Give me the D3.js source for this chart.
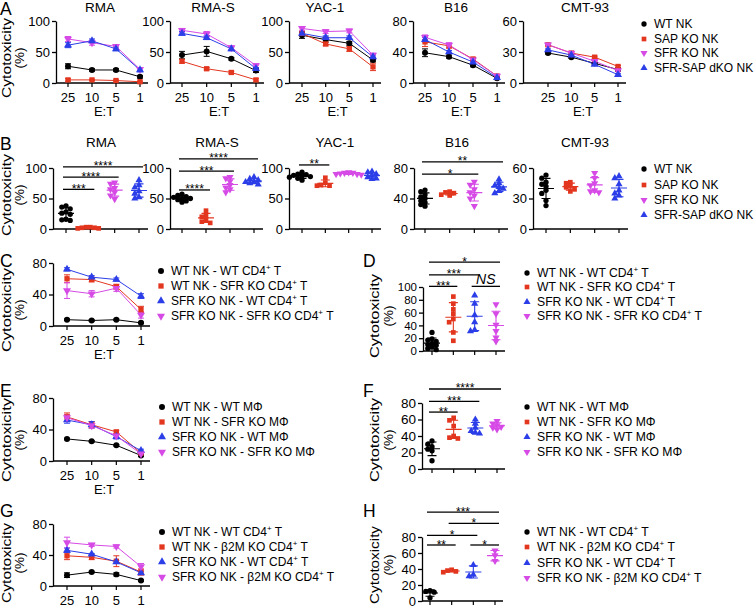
<!DOCTYPE html>
<html><head><meta charset="utf-8">
<script src="https://cdn.jsdelivr.net/npm/d3@7"></script>
<style>body{margin:0;background:#fff}svg{display:block}text{font-family:Arial,"Liberation Sans",Helvetica,sans-serif;fill:#000}</style>
</head><body><svg id="c" width="754" height="609"></svg>
<script>
// ---------------- DATA ----------------
const etTicks = ["25","10","5","1"];
const targets = ["RMA","RMA-S","YAC-1","B16","CMT-93"];
const legendAB = ["WT NK","SAP KO NK","SFR KO NK","SFR-SAP dKO NK"];
const yMaxAB = [100,100,100,80,60];
const yTicksAB = [[0,50,100],[0,50,100],[0,50,100],[0,40,80],[0,30,60]];

// Panel A: series order WT, SAP KO, SFR KO, SFR-SAP dKO ; values at E:T 25,10,5,1
const aRMA   = [[27,21,21,10],[5,5,4,2],[71,65,59,22],[61,68,55,21]];
const aRMAerr= [[4,2,2,2],[2,1,1,1],[4,4,3,3],[4,3,3,3]];
const aRMAS  = [[45,51,39,20],[35,23,17,5],[85,79,57,28],[80,73,55,23]];
const aRMASerr=[[6,8,2,3],[3,2,2,2],[3,4,3,3],[3,3,3,2]];
const aYAC   = [[77,70,64,37],[80,63,55,26],[88,83,84,45],[80,73,73,42]];
const aYACerr= [[5,4,3,3],[3,3,4,6],[3,3,3,3],[3,3,3,3]];
const aB16   = [[39,34,23,6],[53,48,31,9],[59,49,30,9],[56,40,27,7]];
const aB16err= [[5,2,2,1],[6,3,2,1],[3,3,2,1],[3,2,2,1]];
const aCMT   = [[29,25,19,13],[37,29,25,16],[37,29,21,12],[32,27,18,8]];
const aCMTerr= [[1,1,1,1],[1,1,1,1],[1,1,1,1],[1,1,1,1]];

// Panel B: individual points per group (WT, SAP KO, SFR KO, SFR-SAP dKO)
const bRMA = [[38,36,33,28,26,24,16,15,14],[3,2,1,2,3,1],[76,74,67,65,60,55,49],[80,72,68,62,58,52,50]];
const bRMAS = [[57,55,53,52,50,50,48,46,44],[30,22,20,15,12,10],[85,83,78,72,68,65,60],[85,82,80,78,77,75,73]];
const bYAC = [[93,90,89,88,87,86,85,83,80],[84,76,72,71,71],[93,92,92,91,90,90,89],[94,93,90,88,85,83,82]];
const bB16 = [[51,49,45,42,40,37,35,32,30],[49,48,47,45,44],[62,58,52,48,44,40,30],[65,60,57,55,53,50,47]];
const bCMT = [[53,50,46,44,42,38,35,28,23],[46,45,42,41,39,37],[55,50,45,43,38,37,36],[52,50,44,38,35,33,30]];
// significance: [groupFrom, groupTo, label, y-value of bar]
const sigRMA = [[0,1,"***",65],[0,2,"****",85],[0,3,"****",102]];
const sigRMAS = [[0,1,"****",64],[0,2,"***",95],[0,3,"****",115]];
const sigYAC = [[0,1,"**",105]];
const sigB16 = [[0,2,"*",72],[0,3,"**",88]];
const sigCMT = [];

// Panels C/D  (order: WT NK-WT CD4 T, WT NK-SFR KO CD4 T, SFR KO NK-WT CD4 T, SFR KO NK-SFR KO CD4 T)
const cVals = [[8,7,8,4],[60,59,50,21],[72,62,59,38],[45,41,48,14]];
const cErr  = [[1,1,1,1],[5,3,3,4],[2,2,2,3],[10,4,4,4]];
const dPts  = [[29,19,17,15,12,10,9,6,4,2],[85,74,65,58,50,45,29,16],[87,74,56,45,33,31],[73,58,41,31,21,15]];
const sigD  = [[0,1,"***",101],[0,2,"***",119],[0,3,"*",139],[2,3,"NS",101]];
// Panels E/F  (macrophages)
const eVals = [[28,25,20,7],[56,46,37,10],[52,46,31,13],[55,45,32,9]];
const eErr  = [[1,1,1,1],[5,4,2,2],[4,4,3,2],[4,3,2,2]];
const fPts  = [[34,30,27,24,22,10],[62,59,52,40,38,37],[60,55,50,46,44,43],[58,55,53,51,50,48]];
const sigF  = [[0,1,"**",69],[0,2,"***",82],[0,3,"****",97]];
// Panels G/H  (b2M KO)
const gVals = [[14,18,15,7],[39,37,32,18],[46,41,31,17],[56,53,51,25]];
const gErr  = [[3,1,2,1],[5,3,7,4],[3,1,2,2],[7,2,2,4]];
const hPts  = [[13,12,11,4],[39,38,37,36],[45,33,31],[63,57,50]];
const sigH  = [[0,1,"**",70],[2,3,"*",70],[0,2,"*",82],[1,3,"*",97],[0,3,"***",111]];

const legendCD = [["WT NK - WT CD4","+"," T"],["WT NK - SFR KO CD4","+"," T"],["SFR KO NK - WT CD4","+"," T"],["SFR KO NK - SFR KO CD4","+"," T"]];
const legendEF = [["WT NK - WT M\u03A6"],["WT NK - SFR KO M\u03A6"],["SFR KO NK - WT M\u03A6"],["SFR KO NK - SFR KO M\u03A6"]];
const legendGH = [["WT NK - WT CD4","+"," T"],["WT NK - \u03B22M KO CD4","+"," T"],["SFR KO NK - WT CD4","+"," T"],["SFR KO NK - \u03B22M KO CD4","+"," T"]];

// ---------------- STYLE ----------------
const BLACK={c:"#000000",s:"circle"}, RED={c:"#e3361f",s:"square"}, MAG={c:"#d64ae6",s:"down"}, BLUE={c:"#2b3ee8",s:"up"};
const stylesAB=[BLACK,RED,MAG,BLUE];
const stylesCH=[BLACK,RED,BLUE,MAG];

const svg=d3.select("#c");

function marker(g,x,y,st,size){
  const t = st.s==="circle"?d3.symbolCircle:st.s==="square"?d3.symbolSquare:d3.symbolTriangle;
  g.append("path").attr("d",d3.symbol().type(t).size(size)())
   .attr("transform",`translate(${x},${y})`+(st.s==="down"?" rotate(180)":""))
   .attr("fill",st.c);
}

function yAxis(g,ax,y,ticks,fs){
  const a=g.append("g").attr("transform",`translate(${ax},0)`)
    .call(d3.axisLeft(y).tickValues(ticks).tickSize(4).tickSizeOuter(0).tickPadding(2));
  a.selectAll("path,line").attr("stroke","#000").attr("stroke-width",1.3);
  a.selectAll("text").attr("font-size",fs).attr("font-family","Arial,'Liberation Sans',sans-serif").attr("fill","#000");
}
function xAxis(g,ax,xEnd,yb,xs,labels,fs){
  g.append("line").attr("x1",ax).attr("x2",xEnd).attr("y1",yb).attr("y2",yb).attr("stroke","#000").attr("stroke-width",1.3);
  xs.forEach((xx,i)=>{
    g.append("line").attr("x1",xx).attr("x2",xx).attr("y1",yb).attr("y2",yb+4).attr("stroke","#000").attr("stroke-width",1.2);
    if(labels) g.append("text").attr("x",xx).attr("y",yb+19).attr("text-anchor","middle").attr("font-size",fs).text(labels[i]);
  });
}
function yLabel(xc,yc,x2,len){
  svg.append("text").attr("transform",`translate(${xc},${yc}) rotate(-90)`).attr("text-anchor","middle").attr("font-size",13.5)
    .attr("textLength",len||84).attr("lengthAdjust","spacingAndGlyphs").text("Cytotoxicity");
  svg.append("text").attr("transform",`translate(${x2},${yc}) rotate(-90)`).attr("text-anchor","middle").attr("font-size",13.5).text("(%)");
}
function letter(x,y,L){svg.append("text").attr("x",x).attr("y",y).attr("font-size",17.5).text(L);}

// line chart panel
function linePanel(o){
  const g=svg.append("g");
  const y=d3.scaleLinear().domain([0,o.max]).range([o.yb,o.yt]);
  const x=d3.scalePoint().domain(etTicks).range([o.first,o.last]);
  yAxis(g,o.ax,y,o.ticks,o.fs||13);
  xAxis(g,o.ax,o.xEnd,o.yb,etTicks.map(d=>x(d)),etTicks,13);
  if(o.et) g.append("text").attr("x",o.etX).attr("y",o.yb+33).attr("text-anchor","middle").attr("font-size",13).text("E:T");
  o.vals.forEach((ser,si)=>{
    const st=o.styles[si];
    g.append("path").datum(ser).attr("fill","none").attr("stroke",st.c).attr("stroke-width",1)
      .attr("d",d3.line().x((d,i)=>x(etTicks[i])).y(d=>y(d)));
    ser.forEach((v,i)=>{
      const e=o.err[si][i], xx=x(etTicks[i]);
      if(e>0){
        g.append("path").attr("d",`M${xx},${y(v-e)}V${y(v+e)}M${xx-3},${y(v-e)}H${xx+3}M${xx-3},${y(v+e)}H${xx+3}`)
          .attr("stroke",st.c).attr("stroke-width",1).attr("fill","none");
      }
    });
  });
  o.vals.forEach((ser,si)=>ser.forEach((v,i)=>marker(g,x(etTicks[i]),y(v),o.styles[si],28)));
}

// scatter panel
function swarm(vals,y,step){
  const placed=[];const out=new Array(vals.length);
  const order=vals.map((v,i)=>({v,i})).sort((a,b)=>b.v-a.v);
  const offs=[0,-1,1,-2,2,-3,3];
  order.forEach(p=>{
    const py=y(p.v);
    for(const k of offs){
      const px=k*step;
      if(placed.every(q=>(q.x-px)**2+(q.y-py)**2>=(step*0.8)**2)){placed.push({x:px,y:py});out[p.i]=px;break;}
    }
    if(out[p.i]===undefined){out[p.i]=0;}
  });
  return out;
}
function scatterPanel(o){
  const g=svg.append("g");
  const y=d3.scaleLinear().domain([0,o.max]).range([o.yb,o.yt]);
  const x=d3.scalePoint().domain(d3.range(o.pts.length)).range([o.first,o.last]);
  yAxis(g,o.ax,y,o.ticks,o.fs||13);
  xAxis(g,o.ax,o.xEnd,o.yb,o.pts.map((d,i)=>x(i)),null,13);
  o.pts.forEach((pts,gi)=>{
    const st=o.styles[gi], xc=x(gi);
    const offs=swarm(pts,y,4.2);
    pts.forEach((v,i)=>marker(g,xc+offs[i],y(v),st,22));
    const m=d3.mean(pts), sd=pts.length>1?d3.deviation(pts):0;
    g.append("path").attr("d",`M${xc-8},${y(m)}H${xc+8}M${xc},${y(Math.max(0,m-sd))}V${y(m+sd)}M${xc-4.5},${y(Math.max(0,m-sd))}H${xc+4.5}M${xc-4.5},${y(m+sd)}H${xc+4.5}`)
      .attr("stroke",st.c).attr("stroke-width",1.1).attr("fill","none");
  });
  o.sig.forEach(([a,b,lab,v])=>{
    const yy=y(v), x1=x(a)-3, x2=x(b)+4;
    g.append("line").attr("x1",x1).attr("x2",x2).attr("y1",yy).attr("y2",yy).attr("stroke","#000").attr("stroke-width",1.3);
    if(lab==="NS") g.append("text").attr("x",(x1+x2)/2).attr("y",yy-2).attr("text-anchor","middle").attr("font-size",14).attr("font-style","italic").text(lab);
    else g.append("text").attr("x",(x1+x2)/2).attr("y",yy+3.5).attr("text-anchor","middle").attr("font-size",12).text(lab);
  });
}

function legend(x,ys,items,styles,size,fs){
  items.forEach((it,i)=>{
    marker(svg,x,ys[i],styles[i],size);
    const t=svg.append("text").attr("x",x+10).attr("y",ys[i]).attr("dy","0.36em").attr("font-size",fs);
    if(typeof it==="string"){t.text(it);return;}
    t.append("tspan").text(it[0]);
    if(it.length>1){
      t.append("tspan").attr("font-size",8).attr("dy",-5).text(it[1]);
      t.append("tspan").attr("dy",5).text(it[2]);
    }
  });
}

// ---------------- LAYOUT ----------------
const aData=[aRMA,aRMAS,aYAC,aB16,aCMT], aErr=[aRMAerr,aRMASerr,aYACerr,aB16err,aCMTerr];
const bData=[bRMA,bRMAS,bYAC,bB16,bCMT], bSig=[sigRMA,sigRMAS,sigYAC,sigB16,sigCMT];
const aAx=[56,170,289,413,523], aFirst=[68,182,302,425,548], aLast=[140,256,373,497,618];
const aTitleX=[100,213,325,456,585];
const bAx=[53,170,289,414,533], bFirst=[66,182,302,425,546], bLast=[139,254,372,499,619];
const bTitleX=[101,217,335,457,585];

letter(0,15,"A");
targets.forEach((t,i)=>{
  svg.append("text").attr("x",aTitleX[i]).attr("y",12).attr("text-anchor","middle").attr("font-size",13.5).text(t);
  linePanel({ax:aAx[i],first:aFirst[i],last:aLast[i],xEnd:aLast[i]+8,yt:21,yb:83,max:yMaxAB[i],ticks:yTicksAB[i],
    vals:aData[i],err:aErr[i],styles:stylesAB,et:true,etX:(aFirst[i]+aLast[i])/2});
});
yLabel(10.5,58,24,80);
legend(644,[24,39,53,68],legendAB,stylesAB,22,12);

letter(0,150,"B");
targets.forEach((t,i)=>{
  svg.append("text").attr("x",bTitleX[i]).attr("y",147).attr("text-anchor","middle").attr("font-size",13.5).text(t);
  scatterPanel({ax:bAx[i],first:bFirst[i],last:bLast[i],xEnd:bLast[i]+9,yt:168,yb:229,max:yMaxAB[i],ticks:yTicksAB[i],
    pts:bData[i],styles:stylesAB,sig:bSig[i]});
});
yLabel(10.5,195,24,82);
legend(644,[169,185,200,215],legendAB,stylesAB,22,12);

// C
letter(0,267,"C");
linePanel({ax:53,first:67,last:141,xEnd:150,yt:263,yb:326,max:80,ticks:[0,40,80],vals:cVals,err:cErr,styles:stylesCH,et:true,etX:104});
yLabel(10.5,310,24);
legend(161,[271,286,301,316],legendCD,stylesCH,28,12);
// D
letter(363,267,"D");
scatterPanel({ax:423,first:432,last:496,xEnd:505,yt:287,yb:351,max:100,ticks:[0,20,40,60,80,100],fs:11.5,pts:dPts,styles:stylesCH,sig:sigD});
yLabel(379,316,393);
legend(527,[273,287,302,316],legendCD,stylesCH,22,12.2);
// E
letter(0,397,"E");
linePanel({ax:53,first:67,last:141,xEnd:150,yt:398,yb:461,max:80,ticks:[0,40,80],vals:eVals,err:eErr,styles:stylesCH,et:true,etX:104});
yLabel(10.5,440,24);
legend(162,[407,422,437,452],legendEF,stylesCH,28,12);
// F
letter(363,397,"F");
scatterPanel({ax:422,first:432,last:497,xEnd:505,yt:403,yb:469,max:80,ticks:[0,20,40,60,80],fs:13.5,pts:fPts,styles:stylesCH,sig:sigF});
yLabel(379,440,393);
legend(527,[407,422,437,452],legendEF,stylesCH,22,12.2);
// G
letter(0,517,"G");
linePanel({ax:53,first:67,last:141,xEnd:150,yt:524,yb:586,max:80,ticks:[0,40,80],vals:gVals,err:gErr,styles:stylesCH,et:false});
yLabel(10.5,563,24,80);
legend(162,[532,547,562,577],legendGH,stylesCH,28,12);
// H
letter(363,517,"H");
scatterPanel({ax:422,first:430,last:495,xEnd:503,yt:537,yb:601,max:80,ticks:[0,20,40,60,80],fs:13,pts:hPts,styles:stylesCH,sig:sigH});
yLabel(379,565,393,78);
legend(527,[532,547,563,578],legendGH,stylesCH,22,12.2);
</script></body></html>
